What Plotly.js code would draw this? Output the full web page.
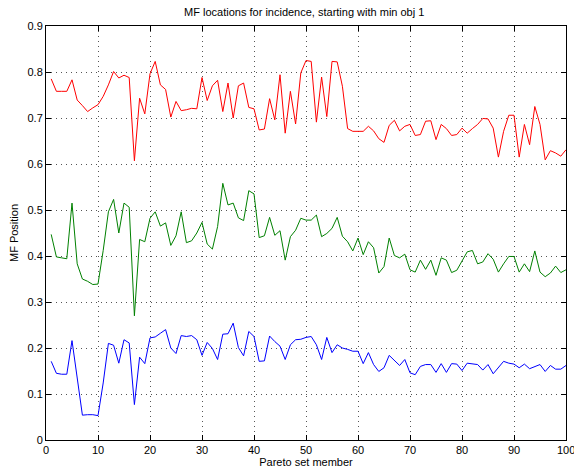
<!DOCTYPE html>
<html>
<head>
<meta charset="utf-8">
<script src="https://cdn.plot.ly/plotly-3.0.1.min.js"></script>
<style>html,body{margin:0;padding:0;background:#fff;}#chart{width:574px;height:470px;}</style>
</head>
<body>
<div id="chart"></div>
<script>
const members = Array.from({length: 100}, (_, i) => i + 1);

const redSeries = [
0.785,0.758,0.758,0.758,0.783,0.739,0.727,0.714,0.722,0.729,
0.747,0.772,0.801,0.787,0.793,0.788,0.607,0.743,0.709,0.796,
0.823,0.772,0.762,0.702,0.736,0.716,0.718,0.721,0.720,0.788,
0.738,0.770,0.782,0.714,0.776,0.700,0.770,0.776,0.723,0.720,
0.674,0.676,0.742,0.696,0.794,0.667,0.758,0.687,0.798,0.825,
0.823,0.691,0.789,0.703,0.823,0.822,0.769,0.677,0.671,0.671,
0.671,0.682,0.672,0.655,0.647,0.684,0.695,0.672,0.682,0.686,
0.662,0.664,0.693,0.694,0.653,0.686,0.677,0.662,0.664,0.678,
0.667,0.677,0.686,0.699,0.698,0.678,0.615,0.671,0.706,0.706,
0.615,0.686,0.642,0.725,0.686,0.609,0.629,0.624,0.617,0.631];

const greenSeries = [
0.447,0.398,0.396,0.394,0.515,0.383,0.350,0.345,0.338,0.339,
0.412,0.496,0.523,0.450,0.515,0.506,0.270,0.436,0.431,0.482,
0.496,0.465,0.472,0.423,0.444,0.496,0.429,0.433,0.450,0.473,
0.426,0.415,0.464,0.558,0.511,0.515,0.483,0.477,0.542,0.535,
0.440,0.444,0.484,0.445,0.455,0.391,0.442,0.456,0.482,0.478,
0.478,0.489,0.442,0.449,0.460,0.484,0.443,0.431,0.411,0.439,
0.403,0.431,0.418,0.363,0.377,0.439,0.401,0.396,0.404,0.370,
0.365,0.391,0.371,0.391,0.358,0.396,0.391,0.364,0.369,0.389,
0.409,0.412,0.383,0.387,0.405,0.393,0.365,0.383,0.399,0.399,
0.365,0.383,0.366,0.411,0.365,0.355,0.363,0.378,0.364,0.370];

const blueSeries = [
0.171,0.145,0.143,0.143,0.216,0.135,0.054,0.055,0.055,0.053,
0.124,0.210,0.206,0.167,0.218,0.211,0.077,0.180,0.166,0.222,
0.224,0.232,0.240,0.200,0.188,0.227,0.225,0.227,0.218,0.184,
0.212,0.199,0.175,0.230,0.231,0.254,0.201,0.183,0.236,0.225,
0.171,0.172,0.226,0.214,0.204,0.175,0.207,0.218,0.219,0.223,
0.225,0.207,0.175,0.223,0.190,0.207,0.200,0.197,0.193,0.193,
0.166,0.190,0.164,0.149,0.157,0.184,0.173,0.162,0.175,0.146,
0.142,0.160,0.164,0.164,0.147,0.166,0.147,0.166,0.165,0.151,
0.167,0.165,0.164,0.152,0.164,0.144,0.158,0.171,0.167,0.165,
0.157,0.165,0.155,0.159,0.164,0.149,0.162,0.154,0.154,0.162];

const xTicks = [0,10,20,30,40,50,60,70,80,90,100];
const xTickText = ['0','10','20','30','40','50','60','70','80','90',''];
const xLastTick = '100';
const yTicks = [0,0.1,0.2,0.3,0.4,0.5,0.6,0.7,0.8,0.9];
const yTickText = ['0','0.1','0.2','0.3','0.4','0.5','0.6','0.7','0.8','0.9'];

const FONT = 'Liberation Sans, Arial, sans-serif';
const mk = (y, c) => ({x: members, y: y, type: 'scatter', mode: 'lines',
  line: {color: c, width: 1}, hoverinfo: 'skip', showlegend: false, cliponaxis: false});

const axisCommon = {
  showline: true, linecolor: '#000', linewidth: 1, mirror: 'ticks',
  ticks: 'inside', ticklen: 5, tickwidth: 1, tickcolor: '#000',
  showgrid: true, gridcolor: '#555', gridwidth: 1, griddash: '1px,4px',
  zeroline: false, tickfont: {family: FONT, size: 11, color: '#000'}
};

const layout = {
  width: 574, height: 470,
  paper_bgcolor: '#fff', plot_bgcolor: '#fff',
  margin: {l: 46, r: 8, t: 26, b: 30},
  title: {text: 'MF locations for incidence, starting with min obj 1',
    font: {family: FONT, size: 11, color: '#000'}, x: 0.53, xanchor: 'center', y: 0.975, yanchor: 'middle'},
  xaxis: Object.assign({}, axisCommon, {range: [-0.0001, 100.0001], tickvals: xTicks, ticktext: xTickText,
    title: {text: 'Pareto set member', font: {family: FONT, size: 11, color: '#000'}, standoff: 2}}),
  yaxis: Object.assign({}, axisCommon, {range: [0, 0.9], tickvals: yTicks, ticktext: yTickText,
    title: {text: 'MF Position', font: {family: FONT, size: 11, color: '#000'}, standoff: 6}}),
  annotations: [{text: xLastTick, xref: 'x', x: 100, yref: 'paper', y: 0, yanchor: 'top',
    xanchor: 'center', yshift: -2, showarrow: false, font: {family: FONT, size: 11, color: '#000'}}]
};

Plotly.newPlot('chart', [mk(redSeries, '#ff0000'), mk(greenSeries, '#008000'), mk(blueSeries, '#0000ff')], layout, {staticPlot: true});
</script>
</body>
</html>
